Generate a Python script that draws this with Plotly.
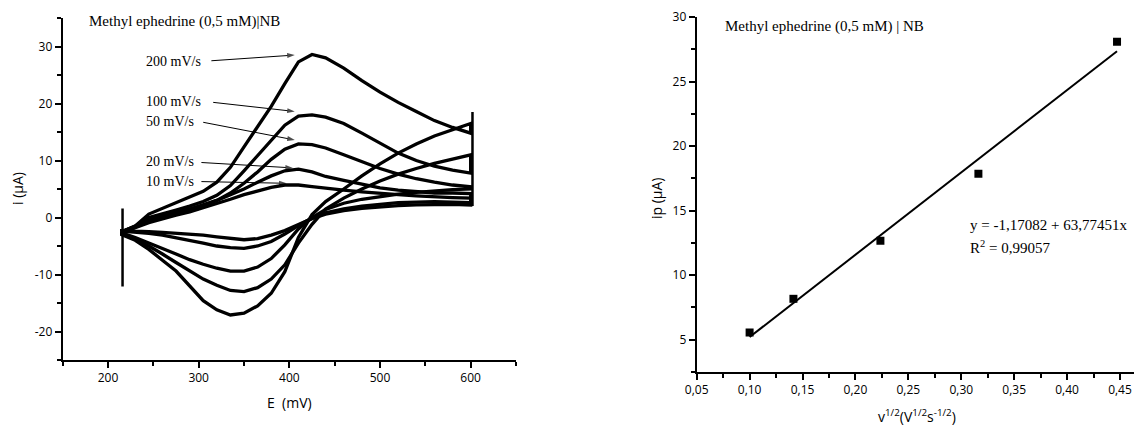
import plotly.graph_objects as go

# --- cyclic voltammograms, Methyl ephedrine (0,5 mM) | NB ---
E_grid = [215, 230, 245, 260, 275, 290, 305, 320, 335, 350, 365, 380, 395, 410,
          425, 440, 460, 480, 500, 520, 540, 560, 580, 600]

scan_rates = ["200 mV/s", "100 mV/s", "50 mV/s", "20 mV/s", "10 mV/s"]

# anodic (upper) branches, E ascending
i_up_200 = [-2.5, -1.5, 0.6, 1.6, 2.6, 3.6, 4.6, 6.2, 8.8, 12.4, 16.0, 19.5, 23.5, 27.3,
            28.6, 28.0, 26.2, 24.0, 22.0, 20.2, 18.6, 17.0, 15.8, 14.8]
i_up_100 = [-2.5, -1.5, 0.0, 0.6, 1.3, 2.0, 2.8, 3.9, 5.6, 8.2, 10.9, 13.6, 16.2, 17.8,
            18.0, 17.6, 16.5, 14.8, 13.0, 11.3, 10.0, 9.0, 8.3, 7.8]
i_up_50 = [-2.5, -1.6, -0.4, 0.3, 0.9, 1.5, 2.2, 3.0, 4.3, 6.0, 8.0, 10.2, 12.0, 12.9,
           12.8, 12.2, 11.0, 9.8, 8.6, 7.6, 6.8, 6.2, 5.7, 5.4]
i_up_20 = [-2.5, -1.7, -0.7, 0.0, 0.6, 1.3, 2.1, 3.0, 4.0, 5.0, 6.2, 7.3, 8.2, 8.5,
           8.0, 7.2, 6.5, 5.8, 5.2, 4.8, 4.5, 4.3, 4.3, 4.2]
i_up_10 = [-2.5, -1.8, -0.9, -0.2, 0.4, 1.0, 1.7, 2.4, 3.2, 4.0, 4.7, 5.3, 5.7, 5.7,
           5.4, 5.1, 4.8, 4.5, 4.2, 4.0, 3.8, 3.6, 3.5, 3.4]

# cathodic (lower) branches, E ascending
i_low_200 = [-3.0, -4.0, -5.6, -7.5, -9.4, -12.0, -14.6, -16.2, -17.1, -16.8, -15.5, -13.3, -9.5, -3.5,
             0.5, 2.8, 5.0, 7.3, 9.4, 11.3, 12.9, 14.3, 15.4, 16.5]
i_low_100 = [-2.8, -3.8, -5.0, -6.4, -7.9, -9.4, -10.8, -11.9, -12.8, -13.0, -12.3, -10.8, -8.3, -4.5,
             -1.2, 1.5, 3.4, 5.0, 6.4, 7.6, 8.6, 9.5, 10.3, 11.0]
i_low_50 = [-2.7, -3.5, -4.4, -5.4, -6.4, -7.4, -8.2, -8.9, -9.4, -9.4, -8.7, -7.2, -4.8, -2.0,
            0.0, 1.4, 2.5, 3.2, 3.7, 4.1, 4.4, 4.7, 4.9, 5.0]
i_low_20 = [-2.4, -2.6, -2.8, -3.1, -3.5, -4.0, -4.5, -5.0, -5.3, -5.4, -5.0, -4.2, -2.9, -1.4,
            -0.1, 0.8, 1.5, 2.0, 2.3, 2.6, 2.7, 2.8, 2.7, 2.6]
i_low_10 = [-2.3, -2.4, -2.5, -2.6, -2.8, -2.9, -3.1, -3.4, -3.7, -3.9, -3.7, -3.1, -2.3, -1.2,
            -0.2, 0.6, 1.2, 1.6, 1.9, 2.1, 2.2, 2.3, 2.3, 2.2]

# switching transients at the potential limits
edge_left_E = [216, 216, 216]
edge_left_i = [1.6, -12.1, -3.0]
edge_right_E = [602, 602]
edge_right_i = [2.0, 18.5]

# --- peak current vs square root of scan rate ---
sqrt_v = [0.1, 0.1414, 0.2236, 0.3162, 0.4472]
ip = [5.56, 8.17, 12.66, 17.85, 28.09]
fit_a = -1.17082
fit_b = 63.77451

E_ticks = [200, 300, 400, 500, 600]
i_ticks = [-20, -10, 0, 10, 20, 30]
i_ticktext = ["-20", "-10", "0", "10", "20", "30"]
v_ticks = [0.05, 0.10, 0.15, 0.20, 0.25, 0.30, 0.35, 0.40, 0.45]
v_ticktext = ["0,05", "0,10", "0,15", "0,20", "0,25", "0,30", "0,35", "0,40", "0,45"]
ip_ticks = [5, 10, 15, 20, 25, 30]

# page body has an 8px margin, so the figure is drawn 8px in from the window corner
OFF = 8
W, H = 1134, 423


def fx(px):
    return (px - OFF) / W


def fy(py):
    return 1 - (py - OFF) / H


serif = "Liberation Serif"
sans = "Open Sans"

fig = go.Figure()

ups = [i_up_200, i_up_100, i_up_50, i_up_20, i_up_10]
lows = [i_low_200, i_low_100, i_low_50, i_low_20, i_low_10]
for name, up, low in zip(scan_rates, ups, lows):
    fig.add_trace(go.Scatter(
        x=E_grid + E_grid[::-1] + E_grid[:1],
        y=up + low[::-1] + up[:1],
        mode="lines", name=name,
        line=dict(color="black", width=3.3),
        xaxis="x", yaxis="y", showlegend=False,
    ))

for ex, ey in [(edge_left_E, edge_left_i), (edge_right_E, edge_right_i)]:
    fig.add_trace(go.Scatter(x=ex, y=ey, mode="lines", line=dict(color="black", width=2.5),
                             xaxis="x", yaxis="y", showlegend=False))

# label arrows pointing at each voltammogram
label_i = [27.4, 20.35, 16.8, 9.8, 6.3]
tail_E = [314, 316, 305, 303, 303]
tail_i = [27.5, 20.2, 16.7, 9.65, 6.3]
head_E = [406, 406, 406, 404, 397]
head_i = [28.5, 18.6, 13.6, 8.7, 6.0]
for tE, ti, hE, hi in zip(tail_E, tail_i, head_E, head_i):
    fig.add_trace(go.Scatter(
        x=[tE, hE], y=[ti, hi], mode="lines+markers",
        line=dict(color="black", width=1),
        marker=dict(symbol="arrow", angleref="previous", size=[0, 8], color="black",
                    line=dict(width=0)),
        xaxis="x", yaxis="y", showlegend=False, hoverinfo="skip",
    ))

fit_x = [sqrt_v[0], sqrt_v[-1]]
fit_y = [fit_a + fit_b * x for x in fit_x]
fig.add_trace(go.Scatter(x=fit_x, y=fit_y, mode="lines", line=dict(color="black", width=2),
                         xaxis="x2", yaxis="y2", showlegend=False))
fig.add_trace(go.Scatter(x=sqrt_v, y=ip, mode="markers",
                         marker=dict(symbol="square", size=8, color="black"),
                         xaxis="x2", yaxis="y2", showlegend=False))

axis_common = dict(
    showline=True, linecolor="black", linewidth=2, mirror=False,
    ticks="outside", ticklen=6, tickwidth=1.5, tickcolor="black",
    showgrid=False, zeroline=False, automargin=False,
    tickfont=dict(family=sans, size=12, color="black"),
)

fig.update_layout(
    template="none",
    width=W, height=H,
    margin=dict(l=0, r=0, t=0, b=0, pad=0),
    paper_bgcolor="white", plot_bgcolor="white",
    showlegend=False,
    xaxis=dict(domain=[fx(62.7), fx(516)], range=[150, 650], tickvals=E_ticks,
               minor=dict(ticks="outside", ticklen=4, tick0=150, dtick=50, tickcolor="black", tickwidth=1.5),
               anchor="y", **axis_common),
    yaxis=dict(domain=[fy(360), fy(18)], range=[-25, 35], tickvals=i_ticks, ticktext=i_ticktext,
               minor=dict(ticks="outside", ticklen=4, tick0=-25, dtick=10, tickcolor="black", tickwidth=1.5),
               anchor="x", **axis_common),
    xaxis2=dict(domain=[fx(696.7), 1.0], range=[0.05, 0.4708], tickvals=v_ticks, ticktext=v_ticktext,
                minor=dict(ticks="outside", ticklen=4, tick0=0.075, dtick=0.05, tickcolor="black", tickwidth=1.5),
                anchor="y2", **axis_common),
    yaxis2=dict(domain=[fy(372), fy(17)], range=[2.5, 30], tickvals=ip_ticks,
                minor=dict(ticks="outside", ticklen=4, tick0=2.5, dtick=5, tickcolor="black", tickwidth=1.5),
                anchor="x2", **axis_common),
)

ann = []
# titles inside panels
ann.append(dict(x=176.5, y=34.3, xref="x", yref="y", text="Methyl ephedrine (0,5 mM)|NB",
                xanchor="left", yanchor="middle", showarrow=False,
                font=dict(family=serif, size=15, color="black")))
ann.append(dict(x=0.0751, y=29.25, xref="x2", yref="y2", text="Methyl ephedrine (0,5 mM) | NB",
                xanchor="left", yanchor="middle", showarrow=False,
                font=dict(family=serif, size=15, color="black")))

# scan rate labels
for name, li in zip(scan_rates, label_i):
    ann.append(dict(x=240, y=li, xref="x", yref="y", text=name, xanchor="left", yanchor="middle",
                    showarrow=False, font=dict(family=serif, size=14, color="black")))

# regression text
ann.append(dict(x=0.3062, y=13.9, xref="x2", yref="y2", text="y = -1,17082 + 63,77451x",
                xanchor="left", yanchor="middle", showarrow=False,
                font=dict(family=serif, size=15, color="black")))
ann.append(dict(x=0.3062, y=12.2, xref="x2", yref="y2", text="R<sup>2</sup> = 0,99057",
                xanchor="left", yanchor="middle", showarrow=False,
                font=dict(family=serif, size=15, color="black")))

# axis titles
ann.append(dict(x=fx(289), y=fy(402), xref="paper", yref="paper", text="E  (mV)",
                xanchor="center", yanchor="middle", showarrow=False,
                font=dict(family=sans, size=14, color="black")))
ann.append(dict(x=fx(17), y=fy(189), xref="paper", yref="paper", text="i (µA)", textangle=-90,
                xanchor="center", yanchor="middle", showarrow=False,
                font=dict(family=sans, size=14, color="black")))
ann.append(dict(x=fx(656), y=fy(198), xref="paper", yref="paper", text="ip (µA)", textangle=-90,
                xanchor="center", yanchor="middle", showarrow=False,
                font=dict(family=sans, size=14, color="black")))
ann.append(dict(x=fx(917), y=fy(416), xref="paper", yref="paper",
                text="v<sup>1/2</sup>(V<sup>1/2</sup>s<sup>-1/2</sup>)",
                xanchor="center", yanchor="middle", showarrow=False,
                font=dict(family=sans, size=14, color="black")))

fig.update_layout(annotations=ann)

fig.write_html("out.html")
